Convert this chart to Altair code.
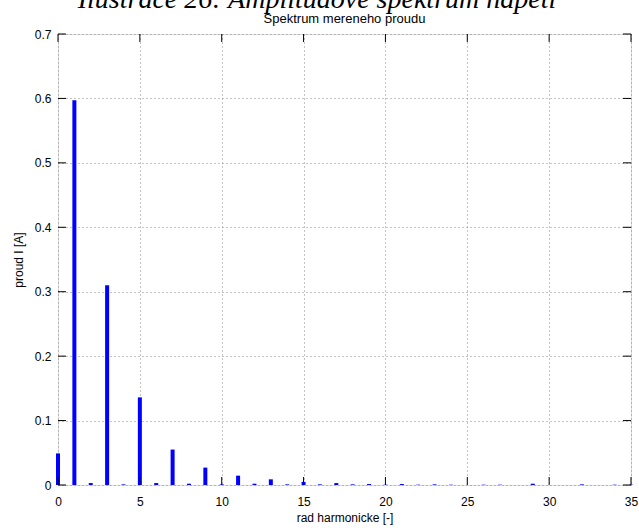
import altair as alt
import pandas as pd

harmonics = list(range(0, 36))
current = [0.049, 0.597, 0.003, 0.310, 0.001, 0.136, 0.003, 0.055, 0.002, 0.027,
           0.001, 0.0145, 0.002, 0.0088, 0.001, 0.0048, 0.001, 0.003, 0.001, 0.0015,
           0.0005, 0.0015, 0.0005, 0.001, 0.0005, 0.0, 0.0005, 0.0005, 0.0, 0.002,
           0.0, 0.0, 0.001, 0.0, 0.0005, 0.0005]
x_ticks = [0, 5, 10, 15, 20, 25, 30, 35]
y_ticks = [0, 0.1, 0.2, 0.3, 0.4, 0.5, 0.6, 0.7]
big_title = ["Ilustrace 26: Amplitudové spektrum napětí"]
sub_title = ["Spektrum mereneho proudu"]

W, H = 573, 451
TL = 8

df = pd.DataFrame({"h": harmonics, "I": current})
xt = pd.DataFrame({"v": x_ticks})
yt = pd.DataFrame({"v": y_ticks})
tt = pd.DataFrame({"t": big_title})
st = pd.DataFrame({"t": sub_title})

xscale = alt.Scale(domain=[0, 35], nice=False, zero=False, padding=0)
yscale = alt.Scale(domain=[0, 0.7], nice=False, padding=0)

xaxis = alt.Axis(values=x_ticks, title="rad harmonicke [-]", grid=True, gridDash=[1, 3],
                 gridColor="#888", gridWidth=1, domain=False, ticks=False, labelPadding=11,
                 labelFontSize=12, titleFontSize=12, titleFontWeight="normal",
                 labelFont="Liberation Sans", titleFont="Liberation Sans",
                 labelColor="black", titleColor="black", titlePadding=5,
                 labelFlush=False, labelOverlap=False)
yaxis = alt.Axis(values=y_ticks, title="proud I [A]", grid=True, gridDash=[1, 3],
                 gridColor="#888", gridWidth=1, domain=False, ticks=False, labelPadding=7,
                 labelFontSize=12, titleFontSize=12, titleFontWeight="normal",
                 labelFont="Liberation Sans", titleFont="Liberation Sans",
                 labelColor="black", titleColor="black", titlePadding=9,
                 labelFlush=False, labelOverlap=False,
                 labelExpr="datum.value == 0 ? '0' : format(datum.value, '.1f')")

bars = alt.Chart(df).mark_bar(color="#0000FF", size=4).encode(
    x=alt.X("h:Q", scale=xscale, axis=xaxis),
    y=alt.Y("I:Q", scale=yscale, axis=yaxis),
)

tick_style = dict(color="black", strokeWidth=1)
bottom_ticks = alt.Chart(xt).mark_rule(**tick_style).encode(
    x=alt.X("v:Q", scale=xscale, axis=xaxis), y=alt.value(H), y2=alt.value(H - TL))
top_ticks = alt.Chart(xt).mark_rule(**tick_style).encode(
    x=alt.X("v:Q", scale=xscale, axis=xaxis), y=alt.value(0), y2=alt.value(TL))
left_ticks = alt.Chart(yt).mark_rule(**tick_style).encode(
    y=alt.Y("v:Q", scale=yscale, axis=yaxis), x=alt.value(0), x2=alt.value(TL))
right_ticks = alt.Chart(yt).mark_rule(**tick_style).encode(
    y=alt.Y("v:Q", scale=yscale, axis=yaxis), x=alt.value(W - TL), x2=alt.value(W))

big = alt.Chart(tt).mark_text(font="Liberation Serif", fontStyle="italic", fontSize=28,
                              baseline="alphabetic", align="center", color="black").encode(
    text="t:N", x=alt.value(259), y=alt.value(-26.5))
sub = alt.Chart(st).mark_text(font="Liberation Sans", fontSize=13,
                              baseline="alphabetic", align="center", color="black").encode(
    text="t:N", x=alt.value(W / 2), y=alt.value(-11.5))

chart = alt.layer(bars, bottom_ticks, top_ticks, left_ticks, right_ticks, big, sub).properties(
    width=W, height=H,
    autosize=alt.AutoSizeParams(type="none"),
    padding={"left": 58, "top": 34, "right": 8, "bottom": 45},
).configure_view(stroke="black", strokeWidth=1).configure(background="white")

chart.save("out.html", embed_options={"renderer": "svg", "actions": False})
